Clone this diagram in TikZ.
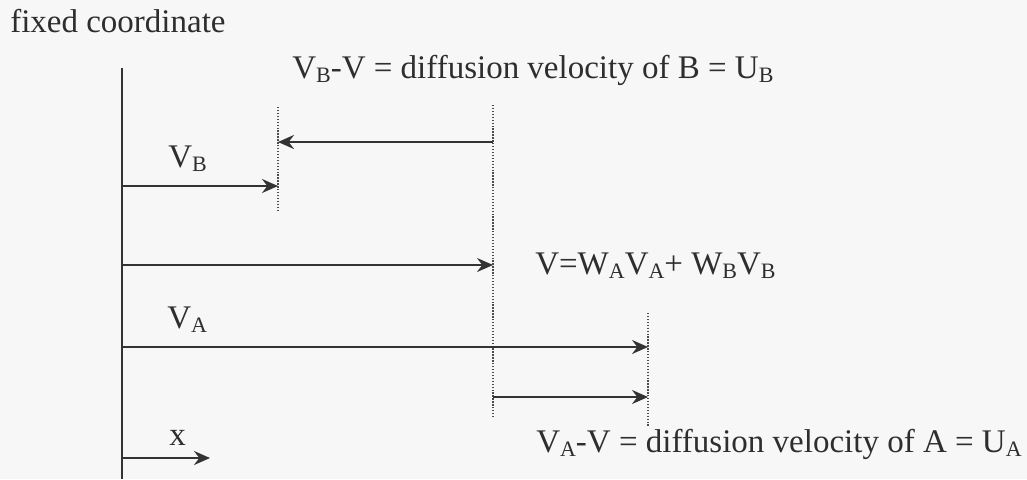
\documentclass[tikz,border=0pt]{standalone}
\usepackage{fontspec}
\setmainfont{Liberation Serif}
\usetikzlibrary{arrows.meta}
\newcommand\sbs[1]{\raisebox{-3.5pt}{\fontsize{16.5}{18}\selectfont #1}}
\tikzset{
  vec/.style={line width=1.7pt, draw=black!80, -{Stealth[length=12pt,width=10.5pt,inset=4pt]}},
  axis/.style={line width=1.5pt, draw=black!80},
  guide/.style={line width=0.8pt, draw=black!70, dash pattern=on 1pt off 1.2pt},
  lbl/.style={anchor=base west, inner sep=0pt, text=black!82, font=\fontsize{24.75}{30}\selectfont}
}
\begin{document}
\begin{tikzpicture}[x=0.75pt,y=-0.75pt]
\fill[black!3] (0,0) rectangle (1027,479);
\useasboundingbox (0,0) rectangle (1027,479);

% coordinates
\coordinate (axT) at (122,68);
\coordinate (axB) at (122,479);
\coordinate (bT) at (278,107);
\coordinate (bB) at (278,212);
\coordinate (vT) at (493,105);
\coordinate (vB) at (493,418);
\coordinate (aT) at (648,313);
\coordinate (aB) at (648,426);
\coordinate (ubS) at (493,142);
\coordinate (ubE) at (278,142);
\coordinate (vbS) at (122,186);
\coordinate (vbE) at (278,186);
\coordinate (vS) at (122,265);
\coordinate (vE) at (493,265);
\coordinate (vaS) at (122,347);
\coordinate (vaE) at (648,347);
\coordinate (uaS) at (493,397);
\coordinate (uaE) at (648,397);
\coordinate (xS) at (122,458);
\coordinate (xE) at (210,458);

% labels
\node[lbl] (fixed) at (10,32) {fixed coordinate};
\node[lbl] (ub) at (292,78) {V\sbs{B}-V = diffusion velocity of B = U\sbs{B}};
\node[lbl] (vbl) at (168,167) {V\sbs{B}};
\node[lbl] (vl) at (535,274) {V=W\sbs{A}V\sbs{A}+ W\sbs{B}V\sbs{B}};
\node[lbl] (val) at (167,328) {V\sbs{A}};
\node[lbl] (xl) at (169,445) {x};
\node[lbl] (ua) at (536,452) {V\sbs{A}-V = diffusion velocity of A = U\sbs{A}};

% axis and guides
\draw[axis] (axT) -- (axB);
\draw[guide] (bT) -- (bB);
\draw[guide] (vT) -- (vB);
\draw[guide] (aT) -- (aB);

% vectors
\draw[vec] (ubS) -- (ubE);
\draw[vec] (vbS) -- (vbE);
\draw[vec] (vS) -- (vE);
\draw[vec] (vaS) -- (vaE);
\draw[vec] (uaS) -- (uaE);
\draw[vec] (xS) -- (xE);
\end{tikzpicture}
\end{document}
